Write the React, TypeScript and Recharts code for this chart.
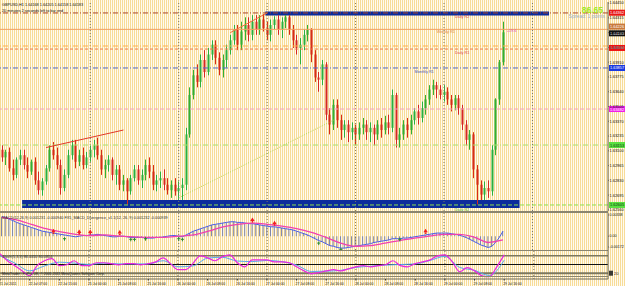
import React from 'react';
import { ComposedChart, Bar, Line, XAxis, YAxis, ReferenceLine, ReferenceArea, ReferenceDot, Scatter } from 'recharts';

// ---------------- DATA ----------------
const SLOTS = 165; // 137 hourly bars + empty right shift

const opens = [1.6311,1.6304,1.6309,1.6294,1.6288,1.6302,1.6306,1.6297,1.6291,1.6300,1.6283,1.6274,1.6282,1.6294,1.6311,1.6306,1.6297,1.6276,1.6288,1.6306,1.6315,1.6300,1.6306,1.6297,1.6304,1.6311,1.6315,1.6306,1.6293,1.6297,1.6302,1.6288,1.6293,1.6279,1.6283,1.6273,1.6285,1.6293,1.6283,1.6288,1.6297,1.6291,1.6279,1.6283,1.6285,1.6279,1.6274,1.6279,1.6273,1.6276,1.6279,1.6325,1.6361,1.6379,1.6373,1.6393,1.6382,1.6398,1.6407,1.6395,1.6384,1.6393,1.6402,1.6411,1.6421,1.6407,1.6419,1.6425,1.6416,1.6428,1.6421,1.6430,1.6422,1.6416,1.6425,1.6430,1.6421,1.6428,1.6432,1.6421,1.6411,1.6404,1.6407,1.6416,1.6421,1.6398,1.6377,1.6375,1.6389,1.6343,1.6334,1.6352,1.6338,1.6329,1.6334,1.6327,1.6331,1.6325,1.6331,1.6334,1.6327,1.6331,1.6325,1.6334,1.6329,1.6336,1.6331,1.6361,1.6320,1.6325,1.6334,1.6329,1.6338,1.6346,1.6340,1.6349,1.6357,1.6366,1.6370,1.6366,1.6361,1.6364,1.6357,1.6352,1.6358,1.6349,1.6334,1.6320,1.6325,1.6293,1.6279,1.6270,1.6276,1.6273,1.6311,1.6357,1.6391];
const highs = [1.6315,1.6311,1.6313,1.6302,1.6304,1.6311,1.6311,1.6304,1.6302,1.6304,1.6291,1.6285,1.6297,1.6315,1.6318,1.6313,1.6302,1.6293,1.6311,1.6320,1.6320,1.6311,1.6313,1.6309,1.6315,1.6320,1.6322,1.6311,1.6302,1.6306,1.6304,1.6297,1.6297,1.6288,1.6285,1.6288,1.6297,1.6297,1.6293,1.6302,1.6304,1.6297,1.6288,1.6291,1.6293,1.6285,1.6283,1.6285,1.6282,1.6285,1.6331,1.6368,1.6384,1.6389,1.6398,1.6402,1.6404,1.6411,1.6411,1.6400,1.6398,1.6407,1.6416,1.6425,1.6425,1.6428,1.6432,1.6432,1.6434,1.6434,1.6434,1.6435,1.6428,1.6430,1.6433,1.6434,1.6432,1.6434,1.6434,1.6425,1.6416,1.6413,1.6421,1.6425,1.6422,1.6402,1.6382,1.6393,1.6391,1.6349,1.6357,1.6357,1.6343,1.6338,1.6338,1.6336,1.6334,1.6336,1.6340,1.6338,1.6336,1.6334,1.6338,1.6340,1.6342,1.6343,1.6366,1.6363,1.6331,1.6338,1.6340,1.6343,1.6349,1.6352,1.6355,1.6361,1.6370,1.6375,1.6373,1.6370,1.6370,1.6368,1.6361,1.6361,1.6361,1.6352,1.6338,1.6329,1.6327,1.6297,1.6283,1.6282,1.6283,1.6315,1.6358,1.6393,1.6428];
const lows = [1.6300,1.6297,1.6291,1.6283,1.6285,1.6297,1.6293,1.6285,1.6288,1.6279,1.6270,1.6269,1.6279,1.6291,1.6302,1.6293,1.6270,1.6273,1.6285,1.6302,1.6294,1.6296,1.6293,1.6294,1.6300,1.6304,1.6302,1.6288,1.6285,1.6291,1.6283,1.6279,1.6274,1.6273,1.6261,1.6270,1.6282,1.6279,1.6276,1.6283,1.6285,1.6274,1.6273,1.6276,1.6274,1.6270,1.6267,1.6269,1.6265,1.6265,1.6274,1.6322,1.6357,1.6368,1.6368,1.6377,1.6379,1.6393,1.6389,1.6379,1.6377,1.6386,1.6398,1.6407,1.6402,1.6402,1.6411,1.6410,1.6411,1.6416,1.6416,1.6419,1.6411,1.6410,1.6421,1.6416,1.6413,1.6422,1.6416,1.6404,1.6398,1.6389,1.6402,1.6410,1.6391,1.6373,1.6364,1.6370,1.6338,1.6325,1.6329,1.6331,1.6320,1.6322,1.6318,1.6320,1.6315,1.6320,1.6325,1.6320,1.6318,1.6315,1.6320,1.6322,1.6325,1.6325,1.6327,1.6313,1.6313,1.6320,1.6322,1.6325,1.6334,1.6334,1.6336,1.6343,1.6352,1.6361,1.6358,1.6357,1.6355,1.6352,1.6346,1.6347,1.6343,1.6329,1.6315,1.6311,1.6285,1.6261,1.6265,1.6265,1.6267,1.6269,1.6306,1.6352,1.6388];
const closes = [1.6304,1.6309,1.6294,1.6288,1.6302,1.6306,1.6297,1.6291,1.6300,1.6283,1.6274,1.6282,1.6294,1.6311,1.6306,1.6297,1.6276,1.6288,1.6306,1.6315,1.6300,1.6306,1.6297,1.6304,1.6311,1.6315,1.6306,1.6293,1.6297,1.6302,1.6288,1.6293,1.6279,1.6283,1.6273,1.6285,1.6293,1.6283,1.6288,1.6297,1.6291,1.6279,1.6283,1.6285,1.6279,1.6274,1.6279,1.6273,1.6276,1.6279,1.6325,1.6361,1.6379,1.6373,1.6393,1.6382,1.6398,1.6407,1.6395,1.6384,1.6393,1.6402,1.6411,1.6421,1.6407,1.6419,1.6425,1.6416,1.6428,1.6421,1.6430,1.6422,1.6416,1.6425,1.6430,1.6421,1.6428,1.6432,1.6421,1.6411,1.6404,1.6407,1.6416,1.6421,1.6398,1.6377,1.6375,1.6389,1.6343,1.6334,1.6352,1.6338,1.6329,1.6334,1.6327,1.6331,1.6325,1.6331,1.6334,1.6327,1.6331,1.6325,1.6334,1.6329,1.6336,1.6331,1.6361,1.6320,1.6325,1.6334,1.6329,1.6338,1.6346,1.6340,1.6349,1.6357,1.6366,1.6370,1.6366,1.6361,1.6364,1.6357,1.6352,1.6358,1.6349,1.6334,1.6320,1.6325,1.6293,1.6279,1.6270,1.6276,1.6273,1.6311,1.6357,1.6391,1.64183];

const macdHist = [0.0031,0.0030,0.0027,0.0025,0.0022,0.0020,0.0018,0.0016,0.0014,0.0012,0.0010,0.0008,0.0007,0.0006,0.0005,0.0004,0.0003,0.0002,0.0001,0.0000,-0.0001,0.0000,0.0001,0.0001,0.0002,0.0002,0.0003,0.0002,0.0001,0.0000,-0.0001,-0.0001,0.0000,0.0000,-0.0001,-0.0002,-0.0002,-0.0002,-0.0002,-0.0003,-0.0003,-0.0003,-0.0002,-0.0002,-0.0001,0.0000,0.0001,0.0001,0.0000,-0.0001,0.0002,0.0005,0.0008,0.0010,0.0012,0.0014,0.0016,0.0018,0.0019,0.0020,0.0021,0.0022,0.0023,0.0023,0.0022,0.0022,0.0021,0.0020,0.0020,0.0019,0.0018,0.0017,0.0016,0.0015,0.0015,0.0014,0.0013,0.0012,0.0011,0.0010,0.0008,0.0006,0.0004,0.0002,-0.0001,-0.0004,-0.0007,-0.0009,-0.0012,-0.0015,-0.0016,-0.0018,-0.0019,-0.0019,-0.0018,-0.0017,-0.0016,-0.0015,-0.0014,-0.0013,-0.0012,-0.0010,-0.0009,-0.0008,-0.0007,-0.0006,-0.0004,-0.0004,-0.0004,-0.0003,-0.0003,-0.0002,-0.0001,0.0000,0.0001,0.0002,0.0003,0.0004,0.0005,0.0005,0.0005,0.0005,0.0004,0.0003,0.0002,0.0000,-0.0002,-0.0005,-0.0008,-0.0011,-0.0014,-0.0016,-0.0018,-0.0016,-0.0010,-0.0002,0.0008];
const macdSignal: [number, number][] = [[0,0.0030],[4,0.0026],[8,0.0019],[12,0.0012],[16,0.0007],[20,0.0003],[24,0.0001],[28,0.0002],[32,0.0000],[36,-0.0001],[40,-0.0002],[44,-0.0002],[48,0.0000],[52,0.0002],[56,0.0008],[60,0.0015],[64,0.0019],[68,0.0021],[72,0.0019],[76,0.0016],[80,0.0012],[84,0.0006],[88,-0.0002],[92,-0.0011],[96,-0.0016],[100,-0.0015],[104,-0.0011],[108,-0.0007],[112,-0.0003],[116,0.0000],[120,0.0003],[124,0.0003],[128,-0.0001],[132,-0.0010],[136,-0.0006]];
const divUp: [number, number][] = [[14,0.0007],[21,0.0006],[24,0.0006],[32,0.0005],[68,0.0025],[74,0.0020],[115,0.0007]];
const divDown: [number, number][] = [[17,-0.0004],[35,-0.0005],[36,-0.0005],[39,-0.0004],[48,-0.0004],[49,-0.0005],[86,-0.0011],[92,-0.0021],[108,-0.0005]];

const stochMain: [number, number][] = [[0,87],[2,63],[4,46],[6,28],[8,11],[10,46],[12,63],[14,70],[16,46],[18,49],[20,63],[22,46],[24,46],[26,56],[28,56],[30,53],[32,49],[34,53],[36,53],[38,49],[40,53],[42,59],[44,73],[46,53],[48,32],[50,32],[52,53],[54,80],[56,73],[58,63],[60,77],[62,83],[64,56],[66,42],[68,66],[70,66],[72,66],[74,59],[76,59],[78,56],[80,42],[82,28],[84,18],[86,22],[88,28],[90,32],[92,28],[94,35],[96,42],[98,46],[100,42],[102,46],[104,49],[106,63],[108,46],[110,42],[112,53],[114,59],[116,66],[118,80],[120,83],[122,59],[124,25],[126,39],[128,28],[130,11],[132,8],[134,42],[136,83]];
const stochSignal: [number, number][] = [[0,80],[4,55],[8,28],[12,45],[16,58],[20,55],[24,50],[28,55],[32,52],[36,52],[40,52],[44,63],[48,42],[52,45],[56,72],[60,75],[64,62],[68,60],[72,64],[76,60],[80,48],[84,26],[88,27],[92,30],[96,40],[100,44],[104,48],[108,50],[112,52],[116,64],[120,78],[124,40],[128,30],[132,12],[136,65]];

const timeTickIdx = [0,8,16,24,32,40,48,56,64,72,80,88,96,104,112,120,128,136];
const timeTickLabels = ['21 Jul 2011','22 Jul 07:00','22 Jul 15:00','25 Jul 00:00','25 Jul 08:00','25 Jul 16:00','26 Jul 00:00','26 Jul 08:00','26 Jul 16:00','27 Jul 00:00','27 Jul 08:00','27 Jul 16:00','28 Jul 00:00','28 Jul 08:00','28 Jul 16:00','29 Jul 00:00','29 Jul 08:00','29 Jul 16:00'];
const daySeparators = [24, 48, 72, 96, 120, 144];

const priceTicks = [1.6445,1.64315,1.6418,1.64045,1.6391,1.63775,1.6364,1.63505,1.6337,1.63235,1.631,1.62965,1.6283,1.62695,1.6256];
const macdTicks = [0.00338, 0, -0.00172];
const stochLevels = [80, 50, 20];

const levelValues = [1.6436, 1.6421, 1.64058, 1.6403, 1.63857, 1.63482, 1.63153, 1.62605];
const boxValues = [1.64362, 1.64226, 1.64183, 1.6404, 1.63857, 1.63482, 1.63153, 1.62605];

const zoneTop = { i1: 72, i2: 148, p1: 1.64337, p2: 1.64373 };
const zoneBottom = { i1: 6, i2: 140, p1: 1.62577, p2: 1.6265 };
const trendLines: [number, number, number, number][] = [[62, 1.6418, 72, 1.6436], [12, 1.6313, 33, 1.6329]];
const dottedLines: [number, number, number, number][] = [[48, 1.6267, 90, 1.6338]];

const noteIdx = [123, 118, 137, 123, 112, 123];
const notePrice = [1.6433, 1.64186, 1.64195, 1.64003, 1.63829, 1.62568];
const noteText = ['Daily R2', 'Weekly R1', '+19.6', 'Daily R1', 'Monthly R1', 'Daily S2'];

// ---------------- STYLES ----------------
const levelStyles = [
  { stroke: '#A8442A', dash: '5 2 1 2' },
  { stroke: '#F2A060', dash: undefined },
  { stroke: '#FFB050', dash: '5 2 1 2' },
  { stroke: '#F07848', dash: '3 2' },
  { stroke: '#5068C8', dash: '5 2 1 2' },
  { stroke: '#F4A0C0', dash: '4 2' },
  { stroke: '#A8E070', dash: '5 2 1 2' },
  { stroke: '#8CE050', dash: '4 2' },
];
const boxStyles = [
  { bg: '#E81818', fg: '#fff', dy: 0 },
  { bg: '#C8783C', fg: '#fff', dy: -1 },
  { bg: '#101010', fg: '#fff', dy: 1 },
  { bg: '#F01010', fg: '#fff', dy: 0 },
  { bg: '#1838E0', fg: '#fff', dy: 0 },
  { bg: '#F020E8', fg: '#fff', dy: 0 },
  { bg: '#58E040', fg: '#103010', dy: 0 },
  { bg: '#58E040', fg: '#103010', dy: 0 },
];
const noteColors = ['#E04848', '#E08848', '#E040C0', '#E04848', '#4858B8', '#58B838'];
const trendColors = ['#F06838', '#E03828'];

const FONT = 'Liberation Sans, DejaVu Sans, sans-serif';
const W = 625;
const AXIS_W = 17;
const GRID = '#6F6B5A';

// ---------------- ROWS ----------------
const toMap = (pts: [number, number][]) => new Map(pts.map(([i, v]) => [i, v]));
const sigMap = toMap(macdSignal);
const stMap = toMap(stochMain);
const ssMap = toMap(stochSignal);
const upMap = toMap(divUp);
const dnMap = toMap(divDown);

const rows = Array.from({ length: SLOTS }, (_, i) => {
  const has = i < opens.length;
  return {
    i,
    open: has ? opens[i] : null,
    high: has ? highs[i] : null,
    low: has ? lows[i] : null,
    close: has ? closes[i] : null,
    range: has ? [lows[i], highs[i]] : null,
    macd: i < macdHist.length ? macdHist[i] : null,
    signal: sigMap.has(i) ? sigMap.get(i) : null,
    stoch: stMap.has(i) ? stMap.get(i) : null,
    stochSig: ssMap.has(i) ? ssMap.get(i) : null,
    up: upMap.has(i) ? upMap.get(i) : null,
    down: dnMap.has(i) ? dnMap.get(i) : null,
  };
});

// ---------------- SHAPES ----------------
const Candle = (props: any) => {
  const { x, y, width, height, payload } = props;
  if (!payload || payload.open == null || !isFinite(y) || !isFinite(height)) return <g />;
  const { open, high, low, close } = payload;
  const top = Math.min(y, y + height);
  const h = Math.abs(height);
  const span = high - low;
  const py = (p: number) => (span === 0 ? top : top + ((high - p) / span) * h);
  const cx = Math.round(x + width / 2) + 0.5;
  const up = close >= open;
  const color = up ? '#2EB03A' : '#D62A1E';
  const bTop = py(Math.max(open, close));
  const bBot = py(Math.min(open, close));
  return (
    <g>
      <line x1={cx} x2={cx} y1={top} y2={top + h} stroke={color} strokeWidth={1} />
      <rect x={cx - 1} y={bTop} width={2} height={Math.max(1, bBot - bTop)} fill={color} />
    </g>
  );
};

const PriceBox = (props: any) => {
  const { viewBox, bg, fg, text, dy } = props;
  if (!viewBox) return null;
  const bx = viewBox.x + viewBox.width + 1;
  const by = viewBox.y + (dy || 0);
  return (
    <g>
      <rect x={bx} y={by - 3} width={17} height={6} fill={bg} />
      <text x={bx + 1} y={by + 1.5} fontSize={3.9} fill={fg} fontFamily={FONT}>{text}</text>
    </g>
  );
};

const UpArrow = (props: any) => {
  const { cx, cy, payload } = props;
  if (!payload || payload.up == null || !isFinite(cy)) return <g />;
  return (
    <g>
      <polygon points={`${cx - 2.2},${cy + 0.5} ${cx + 2.2},${cy + 0.5} ${cx},${cy - 3}`} fill="#F02020" />
      <rect x={cx - 0.8} y={cy + 0.5} width={1.6} height={1.6} fill="#F02020" />
    </g>
  );
};
const DownMark = (props: any) => {
  const { cx, cy, payload } = props;
  if (!payload || payload.down == null || !isFinite(cy)) return <g />;
  return (
    <g stroke="#2C8A2C" strokeWidth={1}>
      <line x1={cx - 1.5} x2={cx + 1.5} y1={cy} y2={cy} />
      <line x1={cx} x2={cx} y1={cy - 1.5} y2={cy + 2} />
    </g>
  );
};

const TimeTick = (props: any) => {
  const { x, y, payload } = props;
  const k = timeTickIdx.indexOf(payload.value);
  if (k < 0) return <g />;
  return (
    <g>
      <line x1={x} x2={x} y1={y} y2={y + 1.5} stroke="#333" />
      <text x={x - 1} y={y + 5.6} fontSize={3.4} fill="#222" fontFamily={FONT}>{timeTickLabels[k]}</text>
    </g>
  );
};

const StochTick = (props: any) => {
  const { x, y, payload } = props;
  return (
    <g>
      <rect x={x} y={y - 2.5} width={4} height={5} fill="#3A3A34" />
      <text x={x + 5} y={y + 1.5} fontSize={4} fill="#222" fontFamily={FONT}>{payload.value}</text>
    </g>
  );
};

const noteShape = (k: number) => (p: any) => (
  <text x={p.cx} y={p.cy + 1.5} fontSize={3.8} fill={noteColors[k]} fontFamily={FONT}>{noteText[k]}</text>
);

// ---------------- CHARTS ----------------
function MainChart() {
  return (
    <ComposedChart width={W} height={212} data={rows} margin={{ top: 2, right: 0, bottom: 1, left: 0 }} barCategoryGap={0}>
      <XAxis dataKey="i" type="category" hide />
      <YAxis
        orientation="right"
        width={AXIS_W}
        domain={[1.6255, 1.6446]}
        allowDataOverflow
        ticks={priceTicks}
        tickFormatter={(v: number) => v.toFixed(5)}
        tick={{ fontSize: 3.9, fill: '#111', fontFamily: FONT }}
        tickSize={1}
        tickMargin={0.5}
        axisLine={{ stroke: GRID }}
        tickLine={{ stroke: GRID }}
      />
      {daySeparators.map((d) => (
        <ReferenceLine key={'d' + d} x={d} stroke="#7A7560" strokeDasharray="1 2" />
      ))}
      {levelValues.map((v, k) => (
        <ReferenceLine key={'l' + k} y={v} stroke={levelStyles[k].stroke} strokeDasharray={levelStyles[k].dash} />
      ))}
      {dottedLines.map((t, k) => (
        <ReferenceLine key={'g' + k} segment={[{ x: t[0], y: t[1] }, { x: t[2], y: t[3] }]} stroke="#B4D850" strokeDasharray="1 1.5" />
      ))}
      <ReferenceArea x1={zoneTop.i1} x2={zoneTop.i2} y1={zoneTop.p1} y2={zoneTop.p2} fill="#0C2C9C" fillOpacity={1} stroke="none" />
      <ReferenceArea x1={zoneBottom.i1} x2={zoneBottom.i2} y1={zoneBottom.p1} y2={zoneBottom.p2} fill="#0C2C9C" fillOpacity={1} stroke="none" />
      {trendLines.map((t, k) => (
        <ReferenceLine key={'t' + k} segment={[{ x: t[0], y: t[1] }, { x: t[2], y: t[3] }]} stroke={trendColors[k]} strokeWidth={1} />
      ))}
      <Bar dataKey="range" shape={<Candle />} isAnimationActive={false} barSize={3} />
      {boxValues.map((v, k) => (
        <ReferenceLine key={'b' + k} y={v} stroke="none" label={<PriceBox bg={boxStyles[k].bg} fg={boxStyles[k].fg} dy={boxStyles[k].dy} text={v.toFixed(5)} />} />
      ))}
      {noteIdx.map((ix, k) => (
        <ReferenceDot key={'n' + k} x={ix} y={notePrice[k]} r={0} shape={noteShape(k)} />
      ))}
    </ComposedChart>
  );
}

function MacdChart() {
  return (
    <ComposedChart width={W} height={38} data={rows} margin={{ top: 1, right: 0, bottom: 0, left: 0 }} barCategoryGap={0}>
      <XAxis dataKey="i" type="category" hide />
      <YAxis
        orientation="right"
        width={AXIS_W}
        domain={[-0.0022, 0.0037]}
        allowDataOverflow
        ticks={macdTicks}
        tickFormatter={(v: number) => (v === 0 ? '0.00' : v.toFixed(5))}
        tick={{ fontSize: 3.6, fill: '#111', fontFamily: FONT }}
        tickSize={1}
        tickMargin={0.5}
        axisLine={{ stroke: GRID }}
        tickLine={{ stroke: GRID }}
      />
      {daySeparators.map((d) => (
        <ReferenceLine key={'d' + d} x={d} stroke="#7A7560" strokeDasharray="1 2" />
      ))}
      <Bar dataKey="macd" fill="#7E86AC" barSize={1} isAnimationActive={false} />
      <Line dataKey="macd" stroke="#4A5CE8" strokeWidth={1} dot={false} isAnimationActive={false} type="linear" />
      <Line dataKey="signal" stroke="#F040B0" strokeWidth={1.3} dot={false} connectNulls isAnimationActive={false} type="monotone" />
      <Scatter dataKey="up" shape={<UpArrow />} isAnimationActive={false} />
      <Scatter dataKey="down" shape={<DownMark />} isAnimationActive={false} />
    </ComposedChart>
  );
}

function StochChart() {
  return (
    <ComposedChart width={W} height={36} data={rows} margin={{ top: 0, right: 0, bottom: 0, left: 0 }} barCategoryGap={0}>
      <XAxis
        dataKey="i"
        type="category"
        interval={0}
        height={7}
        tick={<TimeTick />}
        tickLine={false}
        tickSize={0}
        tickMargin={0}
        axisLine={{ stroke: GRID }}
      />
      <YAxis
        orientation="right"
        width={AXIS_W}
        domain={[0, 100]}
        allowDataOverflow
        ticks={stochLevels}
        tick={<StochTick />}
        tickSize={1}
        tickMargin={0}
        axisLine={{ stroke: GRID }}
        tickLine={false}
      />
      {daySeparators.map((d) => (
        <ReferenceLine key={'d' + d} x={d} stroke="#7A7560" strokeDasharray="1 2" />
      ))}
      <ReferenceLine y={stochLevels[0]} stroke="#7D785F" strokeWidth={1.5} />
      <ReferenceLine y={stochLevels[1]} stroke="#111" strokeWidth={1} />
      <ReferenceLine y={stochLevels[2]} stroke="#7D785F" strokeWidth={2} />
      <Line dataKey="stochSig" stroke="#58A8F0" strokeWidth={1} dot={false} connectNulls isAnimationActive={false} type="monotone" />
      <Line dataKey="stoch" stroke="#E828E0" strokeWidth={1.2} dot={false} connectNulls isAnimationActive={false} type="monotone" />
    </ComposedChart>
  );
}

export default function App() {
  const bg = 'repeating-linear-gradient(90deg, #F7DC98 0px, #F7DC98 1px, #FFFBF0 1px, #FFFBF0 2px)';
  return (
    <div style={{ position: 'fixed', left: 0, top: 0, width: W, height: 286, overflow: 'hidden', background: bg, fontFamily: FONT }}>
      <div style={{ position: 'absolute', left: 0, top: 0 }}><MainChart /></div>
      <div style={{ position: 'absolute', left: 0, top: 210.5, width: 608, height: 2, background: '#8A8570' }} />
      <div style={{ position: 'absolute', left: 0, top: 212 }}><MacdChart /></div>
      <div style={{ position: 'absolute', left: 0, top: 249.5, width: 608, height: 1.5, background: '#8A8570' }} />
      <div style={{ position: 'absolute', left: 0, top: 250 }}><StochChart /></div>
      <div style={{ position: 'absolute', left: 0, top: 276, width: 608, height: 1, background: '#8A8570' }} />
      <svg width={W} height={286} style={{ position: 'absolute', left: 0, top: 0, pointerEvents: 'none' }}>
        <text x={2} y={5.5} fontSize={3.8} fill="#111" fontFamily={FONT}>GBPUSD,H1  1.64168 1.64205 1.64158 1.64183</text>
        <text x={2} y={11.5} fontSize={3.8} fill="#111" fontFamily={FONT}>20 minutes 2 seconds left to bar end</text>
        <text x={603} y={12.5} fontSize={8.5} fontWeight="bold" fill="#A2EA20" textAnchor="end" fontFamily={FONT}>86.65</text>
        <text x={605} y={18} fontSize={5} fill="#98AEC6" textAnchor="end" fontFamily={FONT}>Spread: 1 points</text>
        <text x={2} y={218.5} fontSize={3.8} fill="#303030" fontFamily={FONT}>MACD(12,26,9) 0.001231 -0.000940   FX5_MACD_Divergence_v1.1(12, 26, 9) 0.001232 -0.000939</text>
        <text x={2} y={257.5} fontSize={3.8} fill="#303030" fontFamily={FONT}>Stoch(5,3,3) 86.4410 80.0854</text>
        <text x={2} y={275.3} fontSize={3.5} fill="#202020" fontFamily={FONT}>MetaTrader - FxPro UK, © 2001-2011 MetaQuotes Software Corp.</text>
      </svg>
    </div>
  );
}
